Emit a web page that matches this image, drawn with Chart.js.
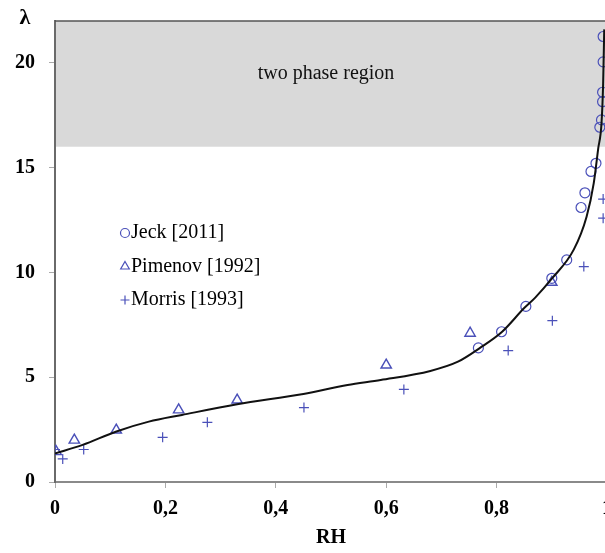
<!DOCTYPE html>
<html>
<head>
<meta charset="utf-8">
<script src="https://cdn.jsdelivr.net/npm/chart.js@4"></script>
<style>
  html, body { margin: 0; padding: 0; background: #fff; overflow: hidden; }
  #wrap { width: 605px; height: 553px; overflow: hidden; }
  canvas { display: block; }
</style>
</head>
<body>
<div id="wrap"><canvas id="chart" width="612" height="553"></canvas></div>
<script>
// Data
const jeckX = [0.767, 0.809, 0.853, 0.9, 0.927, 0.953, 0.96, 0.971, 0.98, 0.987, 0.99, 0.992, 0.992, 0.993, 0.993];
const jeckY = [6.4, 7.17, 8.38, 9.72, 10.6, 13.1, 13.8, 14.82, 15.21, 16.93, 17.28, 18.15, 18.6, 20.05, 21.26];

const pimenovX = [0.002, 0.035, 0.111, 0.224, 0.33, 0.6, 0.752, 0.9];
const pimenovY = [1.45, 2.0, 2.48, 3.44, 3.91, 5.58, 7.1, 9.53];

const morrisX = [0.0, 0.014, 0.052, 0.195, 0.276, 0.451, 0.632, 0.821, 0.901, 0.958, 0.993, 0.993];
const morrisY = [1.55, 1.1, 1.55, 2.13, 2.85, 3.55, 4.42, 6.27, 7.7, 10.28, 12.59, 13.5];

// fitted curve
const curveX = [0, 0.05, 0.11, 0.17, 0.23, 0.33, 0.45, 0.53, 0.59, 0.68, 0.73, 0.77, 0.81, 0.85, 0.87, 0.9, 0.94, 0.963, 0.976, 0.984, 0.99, 0.993, 0.995];
const curveY = [1.36, 1.77, 2.4, 2.88, 3.2, 3.71, 4.2, 4.63, 4.87, 5.3, 5.74, 6.4, 7.17, 8.3, 8.8, 9.7, 11.1, 12.66, 14.26, 15.9, 17.1, 19.0, 21.6];

const xTickValues = [0, 0.2, 0.4, 0.6, 0.8, 1];
const xTickLabels = ['0', '0,2', '0,4', '0,6', '0,8', '1'];
const yTickValues = [0, 5, 10, 15, 20];
const yTickLabels = ['0', '5', '10', '15', '20'];

const twoPhaseFrom = 16;
const twoPhaseLabel = 'two phase region';

const markerColor = '#4a50b9';
const serif = "'Liberation Serif', 'Times New Roman', serif";

function toPoints(xs, ys) {
    return xs.map((x, i) => ({ x: x, y: ys[i] }));
}

// grey band for the two phase region, plus top frame line and label
const bandPlugin = {
    id: 'band',
    beforeDraw(chart) {
        const { ctx, chartArea, scales } = chart;
        const yTop = chartArea.top;
        const yBottom = scales.y.getPixelForValue(twoPhaseFrom);
        ctx.save();
        ctx.fillStyle = '#d9d9d9';
        ctx.fillRect(chartArea.left, yTop, chartArea.right - chartArea.left, yBottom - yTop);
        ctx.restore();
    },
    afterDraw(chart) {
        const { ctx, chartArea, scales } = chart;
        ctx.save();
        ctx.strokeStyle = '#555';
        ctx.lineWidth = 1.5;
        ctx.beginPath();
        ctx.moveTo(chartArea.left, chartArea.top);
        ctx.lineTo(chartArea.right, chartArea.top);
        ctx.stroke();

        const midY = (chartArea.top + scales.y.getPixelForValue(twoPhaseFrom)) / 2;
        ctx.fillStyle = '#111';
        ctx.font = '20px ' + serif;
        ctx.textAlign = 'center';
        ctx.textBaseline = 'middle';
        ctx.fillText(twoPhaseLabel, 326, midY - 10);

        // axis symbol
        ctx.font = 'bold 22px ' + serif;
        ctx.fillStyle = '#000';
        ctx.fillText('\u03BB', 25, 18);
        ctx.restore();
    }
};

// legend drawn inside the plot
const legendPlugin = {
    id: 'innerLegend',
    afterDraw(chart) {
        const { ctx } = chart;
        let y = 233;
        ctx.save();
        chart.data.datasets.forEach(ds => {
            if (!ds.inLegend) return;
            ctx.strokeStyle = markerColor;
            ctx.fillStyle = 'rgba(0,0,0,0)';
            ctx.lineWidth = 1.2;
            Chart.helpers.drawPoint(ctx, {
                pointStyle: ds.pointStyle,
                radius: ds.pointStyle === 'triangle' ? 5 : 4.5,
                rotation: 0,
                borderWidth: 1.2
            }, 125, y);
            ctx.fillStyle = '#000';
            ctx.font = '20px ' + serif;
            ctx.textAlign = 'left';
            ctx.textBaseline = 'middle';
            ctx.fillText(ds.label, 131, y);
            y += 33.5;
        });
        ctx.restore();
    }
};

const ctx = document.getElementById('chart');

new Chart(ctx, {
    type: 'scatter',
    data: {
        datasets: [
            {
                label: 'Jeck [2011]',
                inLegend: true,
                data: toPoints(jeckX, jeckY),
                pointStyle: 'circle',
                pointRadius: 5,
                pointBorderWidth: 1.2,
                borderColor: markerColor,
                backgroundColor: 'rgba(0,0,0,0)',
                order: 2
            },
            {
                label: 'Pimenov [1992]',
                inLegend: true,
                data: toPoints(pimenovX, pimenovY),
                pointStyle: 'triangle',
                pointRadius: 6,
                pointBorderWidth: 1.4,
                borderColor: markerColor,
                backgroundColor: 'rgba(0,0,0,0)',
                order: 2
            },
            {
                label: 'Morris [1993]',
                inLegend: true,
                data: toPoints(morrisX, morrisY),
                pointStyle: 'cross',
                pointRadius: 5,
                pointBorderWidth: 1.2,
                borderColor: markerColor,
                backgroundColor: markerColor,
                order: 2
            },
            {
                type: 'line',
                label: 'fit',
                data: toPoints(curveX, curveY),
                borderColor: '#111',
                borderWidth: 2,
                pointRadius: 0,
                cubicInterpolationMode: 'monotone',
                fill: false,
                order: 1
            }
        ]
    },
    options: {
        responsive: false,
        animation: false,
        layout: { autoPadding: false, padding: { left: 0, right: 5, top: 21, bottom: 0 } },
        plugins: {
            legend: { display: false },
            tooltip: { enabled: false }
        },
        scales: {
            x: {
                type: 'linear',
                min: 0,
                max: 1,
                afterBuildTicks: (scale) => {
                    scale.ticks = xTickValues.map(v => ({ value: v }));
                },
                afterFit: (scale) => {
                    scale.height = 71;
                    scale.paddingLeft = 0;
                    scale.paddingRight = 0;
                },
                ticks: {
                    autoSkip: false,
                    maxRotation: 0,
                    padding: 9,
                    color: '#000',
                    font: { family: serif, size: 20, weight: 'bold' },
                    callback: (value) => {
                        const i = xTickValues.indexOf(value);
                        return i >= 0 ? xTickLabels[i] : '';
                    }
                },
                grid: {
                    drawOnChartArea: false,
                    drawTicks: true,
                    tickLength: 6,
                    color: '#aaa'
                },
                border: { display: true, color: '#8a8a8a', width: 2 },
                title: {
                    display: true,
                    text: 'RH',
                    color: '#000',
                    padding: { top: 0, bottom: 3 },
                    font: { family: serif, size: 20, weight: 'bold' }
                }
            },
            y: {
                type: 'linear',
                min: 0,
                max: 22,
                afterBuildTicks: (scale) => {
                    scale.ticks = yTickValues.map(v => ({ value: v }));
                },
                afterFit: (scale) => {
                    scale.width = 55;
                    scale.paddingTop = 0;
                    scale.paddingBottom = 0;
                },
                ticks: {
                    autoSkip: false,
                    padding: 14,
                    color: '#000',
                    font: { family: serif, size: 20, weight: 'bold' },
                    callback: (value) => {
                        const i = yTickValues.indexOf(value);
                        return i >= 0 ? yTickLabels[i] : '';
                    }
                },
                grid: {
                    drawOnChartArea: false,
                    drawTicks: true,
                    tickLength: 6,
                    color: '#aaa'
                },
                border: { display: true, color: '#6a6a6a', width: 2 }
            }
        }
    },
    plugins: [bandPlugin, legendPlugin]
});
</script>
</body>
</html>
